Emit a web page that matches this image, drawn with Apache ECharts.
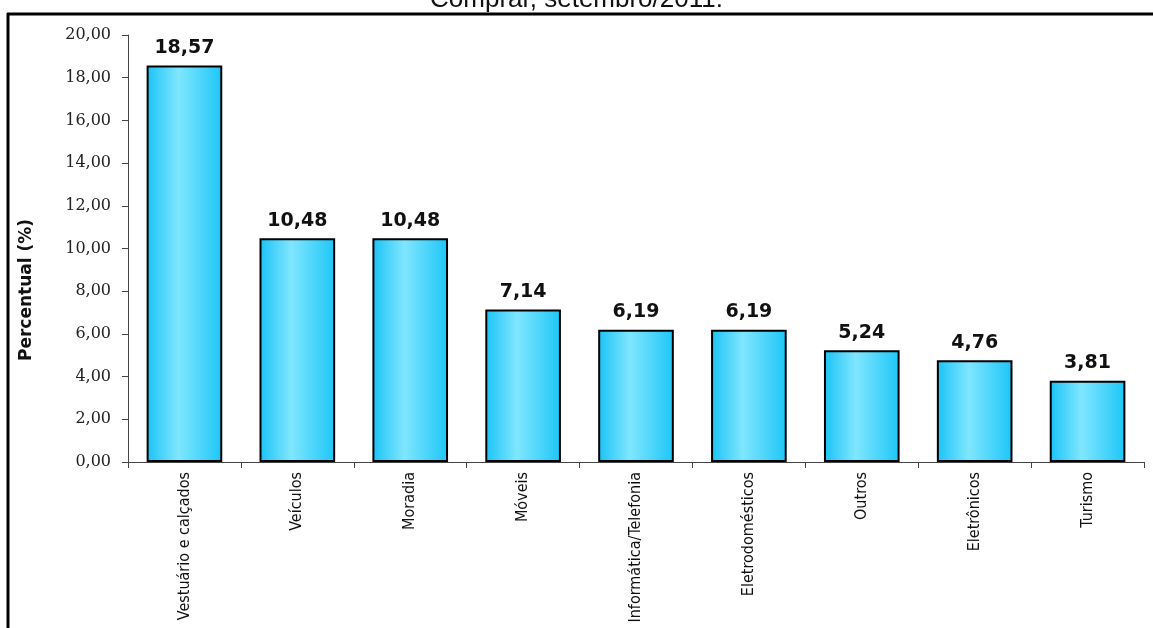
<!DOCTYPE html>
<html>
<head>
<meta charset="utf-8">
<script src="https://cdn.jsdelivr.net/npm/echarts@6/dist/echarts.min.js"></script>
<style>
html,body{margin:0;padding:0;background:#fff;}
#chart{width:1153px;height:628px;}
</style>
</head>
<body>
<div id="chart"></div>
<script>
var titleText = 'Comprar, setembro/2011.';
var yAxisTitle = 'Percentual (%)';
var categories = ['Vestuário e calçados','Veículos','Moradia','Móveis','Informática/Telefonia','Eletrodomésticos','Outros','Eletrônicos','Turismo'];
var values = [18.57, 10.48, 10.48, 7.14, 6.19, 6.19, 5.24, 4.76, 3.81];
var yMin = 0, yMax = 20, yStep = 2;

function fmt(v){ return Number(v).toFixed(2).replace('.', ','); }

var chart = echarts.init(document.getElementById('chart'), null, {renderer:'canvas'});
chart.setOption({
  animation:false,
  backgroundColor:'#ffffff',
  grid:{left:128, right:9, top:35, bottom:166, containLabel:false},
  xAxis:{
    type:'category',
    data:categories,
    axisLine:{show:true, lineStyle:{color:'#444', width:1}},
    axisTick:{show:true, alignWithLabel:false, length:6, lineStyle:{color:'#444'}},
    axisLabel:{rotate:90, margin:10, color:'#111', fontSize:16, fontFamily:'DejaVu Sans Condensed, DejaVu Sans', interval:0},
    splitLine:{show:false}
  },
  yAxis:{
    type:'value', min:yMin, max:yMax, interval:yStep,
    axisLine:{show:true, lineStyle:{color:'#444', width:1}},
    axisTick:{show:true, length:6, lineStyle:{color:'#444'}},
    axisLabel:{formatter:fmt, color:'#222', fontSize:16, fontFamily:'DejaVu Serif', margin:17},
    splitLine:{show:false}
  },
  series:[{
    type:'bar',
    data:values,
    barCategoryGap:'33%',
    itemStyle:{
      color:new echarts.graphic.LinearGradient(0,0,1,0,[
        {offset:0, color:'#19c3f5'},
        {offset:0.42, color:'#80e6ff'},
        {offset:1, color:'#1cc6f7'}
      ]),
      borderColor:'#000', borderWidth:2
    },
    label:{show:true, position:'top', distance:8, formatter:function(p){return fmt(p.value);},
      color:'#111', fontSize:19, fontWeight:'bold', fontFamily:'DejaVu Sans'}
  }],
  graphic:[
    {type:'text', left:'center', x:0, y:-13, style:{text:titleText, font:'26px "Liberation Sans", Arial', fill:'#111', textAlign:'center', textVerticalAlign:'top'}, z:10},
    {type:'line', shape:{x1:7, y1:14, x2:1153, y2:14}, style:{stroke:'#000', lineWidth:3}, z:10},
    {type:'line', shape:{x1:8, y1:13, x2:8, y2:628}, style:{stroke:'#000', lineWidth:3}, z:10},
    {type:'text', x:27, y:290, rotation:Math.PI/2, style:{text:yAxisTitle, font:'bold 17px "DejaVu Sans"', fill:'#111', textAlign:'center', textVerticalAlign:'middle'}, z:10}
  ]
});
</script>
</body>
</html>
